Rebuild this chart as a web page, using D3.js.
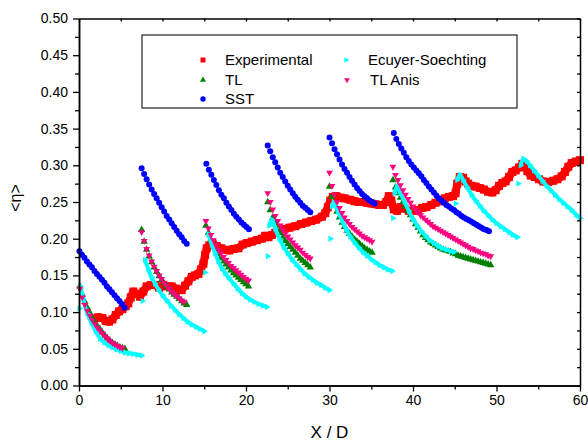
<!DOCTYPE html>
<html><head><meta charset="utf-8">
<script src="https://cdn.jsdelivr.net/npm/d3@7"></script>
<style>
body{margin:0;background:#fff;}
text{font-family:"Liberation Sans",Arial,Helvetica,sans-serif;}
</style></head><body>
<svg id="chart" width="588" height="442"></svg>
<script>
// ---------- data ----------
const xTicks = [0, 10, 20, 30, 40, 50, 60];
const xMinorTicks = [5, 15, 25, 35, 45, 55];
const yTicks = [0, 0.05, 0.10, 0.15, 0.20, 0.25, 0.30, 0.35, 0.40, 0.45, 0.50];
const yMinorTicks = [0.025, 0.075, 0.125, 0.175, 0.225, 0.275, 0.325, 0.375, 0.425, 0.475];
const seriesNames = ["Experimental", "TL", "SST", "Ecuyer-Soechting", "TL Anis"];
const seriesColors = ["#ff0000", "#008000", "#0000ff", "#00ffff", "#ff0080"];

// Experimental [x, y]
const expData = [
 [1.8,0.091],[2.3,0.093],[2.8,0.092],[3.2,0.088],[3.6,0.087],[4.0,0.090],[4.4,0.096],[4.8,0.101],
 [5.2,0.104],[5.6,0.108],[5.9,0.112],[6.2,0.120],[6.5,0.128],[6.9,0.125],[7.3,0.121],[7.7,0.128],
 [8.1,0.135],[8.6,0.137],[9.1,0.137],[9.6,0.133],[10.1,0.136],[10.6,0.135],[11.1,0.135],[11.6,0.132],
 [12.0,0.130],[12.3,0.130],[12.7,0.136],[13.1,0.142],[13.5,0.148],[13.9,0.150],[14.3,0.152],[14.6,0.158],
 [14.9,0.166],[15.1,0.178],[15.3,0.187],[15.6,0.191],[16.0,0.193],[16.5,0.190],[17.0,0.187],[17.5,0.185],
 [18.0,0.184],[18.5,0.186],[19.1,0.187],[19.6,0.192],[20.1,0.194],[20.7,0.196],[21.3,0.198],[21.9,0.200],
 [22.3,0.204],[22.7,0.202],[23.1,0.205],[23.5,0.208],[24.0,0.211],[24.6,0.213],[25.2,0.215],[25.9,0.217],
 [26.6,0.220],[27.2,0.222],[27.8,0.224],[28.4,0.226],[29.1,0.230],[29.5,0.235],[29.8,0.243],[30.1,0.252],
 [30.4,0.257],[30.8,0.258],[31.3,0.256],[31.8,0.255],[32.5,0.253],[33.0,0.251],[33.5,0.250],[34.0,0.250],
 [34.5,0.249],[35.0,0.248],[35.5,0.247],[36.0,0.246],[36.4,0.246],[36.8,0.250],[37.1,0.258],[37.4,0.252],
 [37.7,0.240],[38.1,0.238],[38.5,0.243],[39.0,0.241],[39.5,0.238],[40.0,0.238],[40.6,0.239],[41.1,0.242],
 [41.6,0.243],[42.2,0.246],[42.7,0.249],[43.2,0.251],[43.8,0.255],[44.3,0.257],[44.8,0.258],[45.1,0.262],
 [45.3,0.275],[45.6,0.284],[46.0,0.283],[46.3,0.278],[46.6,0.275],[47.0,0.272],[47.5,0.271],[48.0,0.269],
 [48.5,0.267],[49.0,0.264],[49.5,0.263],[49.9,0.266],[50.3,0.272],[50.7,0.276],[51.1,0.278],[51.5,0.284],
 [51.9,0.291],[52.3,0.293],[52.7,0.297],[53.1,0.302],[53.4,0.300],[53.7,0.292],[54.1,0.286],[54.6,0.284],
 [55.1,0.281],[55.6,0.278],[56.2,0.277],[56.8,0.279],[57.3,0.281],[57.8,0.285],[58.2,0.291],[58.6,0.298],
 [59.0,0.303],[59.5,0.305],[60.0,0.307]
];

// model segments: start positions, sample spacing, values
const modelStep = 0.3;
const tlStarts = [0.1, 7.5, 15.2, 22.6, 30.0, 37.6];
const tlValues = [
 [0.135,0.124,0.114,0.106,0.099,0.092,0.086,0.081,0.077,0.072,0.068,0.064,0.061,0.058,0.056,0.054,0.052,0.051,0.050],
 [0.212,0.196,0.185,0.176,0.168,0.161,0.155,0.149,0.144,0.139,0.135,0.131,0.127,0.124,0.121,0.118,0.115,0.112,0.110],
 [0.218,0.208,0.199,0.192,0.185,0.179,0.174,0.169,0.165,0.161,0.157,0.153,0.150,0.147,0.144,0.141,0.138,0.135],
 [0.250,0.239,0.229,0.221,0.214,0.208,0.202,0.197,0.193,0.189,0.185,0.181,0.177,0.173,0.170,0.167,0.164,0.161],
 [0.271,0.257,0.246,0.237,0.229,0.222,0.216,0.211,0.207,0.203,0.199,0.196,0.193,0.190,0.187,0.185,0.183,0.181],
 [0.280,0.270,0.262,0.256,0.250,0.244,0.238,0.232,0.226,0.220,0.215,0.210,0.205,0.201,0.198,0.195,0.193,0.191,0.189,0.187,
  0.185,0.184,0.183,0.182,0.180,0.179,0.177,0.176,0.175,0.174,0.173,0.172,0.171,0.170,0.169,0.168,0.167,0.166,0.165,0.164]
];
const tlAnisStarts = [0.1, 7.5, 15.2, 22.6, 30.0, 37.6];
const tlAnisValues = [
 [0.132,0.120,0.110,0.102,0.095,0.089,0.084,0.079,0.075,0.071,0.067,0.064,0.061,0.058,0.056,0.054,0.052,0.051],
 [0.209,0.197,0.186,0.177,0.169,0.162,0.156,0.150,0.145,0.140,0.136,0.132,0.128,0.125,0.122,0.119,0.116,0.114],
 [0.224,0.214,0.205,0.198,0.191,0.185,0.180,0.175,0.171,0.167,0.163,0.160,0.157,0.154,0.151,0.148,0.145,0.143],
 [0.262,0.250,0.240,0.231,0.224,0.218,0.212,0.207,0.203,0.199,0.195,0.191,0.188,0.185,0.181,0.178,0.175,0.173],
 [0.290,0.272,0.260,0.250,0.242,0.235,0.229,0.224,0.220,0.216,0.213,0.210,0.207,0.204,0.202,0.200,0.198,0.196],
 [0.298,0.287,0.280,0.273,0.266,0.260,0.254,0.249,0.244,0.240,0.236,0.232,0.229,0.226,0.223,0.220,0.217,0.215,0.213,0.211,
  0.209,0.207,0.205,0.203,0.201,0.199,0.197,0.195,0.193,0.191,0.189,0.187,0.186,0.184,0.183,0.181,0.180,0.179,0.177,0.176]
];
const sstStarts = [0.05, 7.5, 15.25, 22.6, 30.0, 37.7];
const sstValues = [
 [0.183,0.178,0.174,0.169,0.165,0.161,0.156,0.152,0.148,0.144,0.140,0.135,0.131,0.127,0.123,0.119,0.115,0.111,0.106],
 [0.296,0.288,0.281,0.274,0.267,0.261,0.255,0.249,0.243,0.237,0.231,0.226,0.221,0.216,0.211,0.206,0.202,0.197,0.193],
 [0.302,0.294,0.287,0.280,0.273,0.266,0.260,0.255,0.249,0.244,0.239,0.234,0.230,0.226,0.222,0.219,0.216,0.213],
 [0.327,0.319,0.311,0.304,0.297,0.290,0.284,0.278,0.272,0.267,0.262,0.257,0.253,0.249,0.245,0.242,0.239,0.236],
 [0.338,0.330,0.322,0.315,0.308,0.301,0.295,0.290,0.284,0.279,0.274,0.269,0.265,0.261,0.258,0.255,0.252,0.250,0.248],
 [0.344,0.336,0.329,0.323,0.317,0.311,0.306,0.301,0.297,0.293,0.289,0.285,0.280,0.276,0.271,0.267,0.263,0.259,0.255,0.252,
  0.249,0.246,0.244,0.241,0.239,0.236,0.234,0.231,0.229,0.227,0.225,0.223,0.221,0.219,0.217,0.215,0.213,0.212,0.210]
];
// Ecuyer-Soechting: first point of each segment is the isolated inlet point
const ecuyerSegments = [
 [[0.05,0.105],[0.2,0.135],[0.5,0.118],[1.0,0.098],[1.5,0.085],[2.0,0.074],[2.5,0.064],[3.0,0.059],[3.5,0.055],[4.0,0.052],[4.5,0.049],[5.0,0.047],[5.5,0.045],[6.0,0.044],[6.5,0.043],[7.0,0.042],[7.5,0.041]],
 [[7.6,0.115],[7.9,0.171],[8.3,0.158],[8.7,0.147],[9.1,0.139],[9.5,0.131],[10.0,0.123],[10.5,0.116],[11.0,0.109],[11.5,0.103],[12.0,0.097],[12.5,0.092],[13.0,0.087],[13.5,0.083],[14.0,0.080],[14.5,0.077],[15.0,0.074]],
 [[15.1,0.154],[15.5,0.206],[15.9,0.192],[16.3,0.180],[16.7,0.169],[17.1,0.160],[17.5,0.153],[17.9,0.147],[18.5,0.139],[19.0,0.132],[19.5,0.126],[20.0,0.121],[20.5,0.117],[21.0,0.114],[21.5,0.111],[22.0,0.109],[22.5,0.107]],
 [[22.6,0.176],[22.8,0.218],[23.1,0.226],[23.5,0.214],[24.0,0.200],[24.5,0.189],[25.0,0.180],[25.5,0.172],[26.0,0.165],[26.5,0.159],[27.0,0.153],[27.5,0.148],[28.0,0.144],[28.5,0.140],[29.0,0.137],[29.5,0.133],[30.0,0.130]],
 [[30.1,0.200],[30.3,0.244],[30.5,0.250],[31.0,0.237],[31.5,0.225],[32.0,0.213],[32.5,0.203],[33.0,0.195],[33.5,0.188],[34.0,0.182],[34.5,0.177],[35.0,0.172],[35.5,0.168],[36.0,0.164],[36.5,0.161],[37.0,0.158],[37.5,0.156]],
 [[37.6,0.228],[37.8,0.262],[38.1,0.271],[38.5,0.262],[39.0,0.250],[39.5,0.238],[40.0,0.227],[40.5,0.218],[41.0,0.210],[41.5,0.204],[42.0,0.198],[42.5,0.194],[43.0,0.190],[43.5,0.187],[44.0,0.185],[44.5,0.183],[44.9,0.182]],
 [[45.1,0.248],[45.3,0.280],[45.6,0.287],[46.0,0.280],[46.5,0.270],[47.0,0.260],[47.5,0.252],[48.0,0.245],[48.5,0.238],[49.0,0.232],[49.5,0.226],[50.0,0.221],[50.5,0.217],[51.0,0.213],[51.5,0.209],[52.0,0.205],[52.5,0.202]],
 [[52.6,0.275],[52.9,0.300],[53.2,0.309],[53.6,0.306],[54.0,0.300],[54.5,0.293],[55.0,0.286],[55.5,0.279],[56.0,0.272],[56.5,0.266],[57.0,0.260],[57.5,0.254],[58.0,0.249],[58.5,0.244],[59.0,0.239],[59.5,0.233],[60.0,0.228]]
];

// ---------- layout ----------
const svg = d3.select("#chart");
const x = d3.scaleLinear().domain([0, 60]).range([79, 580]);
const y = d3.scaleLinear().domain([0, 0.5]).range([385.5, 18.5]);
const FONT = '"Liberation Sans",Arial,Helvetica,sans-serif';

function toPoints(starts, values) {
  const out = [];
  starts.forEach((s, k) => values[k].forEach((v, i) => out.push([s + i * modelStep, v])));
  return out;
}

const plot = svg.append("g");

// Experimental
plot.append("path")
  .datum(expData)
  .attr("d", d3.line().x(d => x(d[0])).y(d => y(d[1])))
  .attr("fill", "none").attr("stroke", seriesColors[0]).attr("stroke-width", 8).attr("stroke-linejoin", "round");
plot.selectAll(".exp").data(expData).enter().append("rect")
  .attr("x", d => x(d[0]) - 4).attr("y", d => y(d[1]) - 4)
  .attr("width", 8).attr("height", 8).attr("fill", seriesColors[0]);

// TL
const triUp = d3.symbol().type(d3.symbolTriangle).size(24);
plot.selectAll(".tl").data(toPoints(tlStarts, tlValues)).enter().append("path")
  .attr("d", triUp).attr("transform", d => `translate(${x(d[0])},${y(d[1])})`)
  .attr("fill", seriesColors[1]);

// SST
plot.selectAll(".sst").data(toPoints(sstStarts, sstValues)).enter().append("circle")
  .attr("cx", d => x(d[0])).attr("cy", d => y(d[1])).attr("r", 3)
  .attr("fill", seriesColors[2]);

// Ecuyer-Soechting
const triSmall = d3.symbol().type(d3.symbolTriangle).size(18);
ecuyerSegments.forEach(seg => {
  plot.append("path").datum(seg.slice(1))
    .attr("d", d3.line().x(d => x(d[0])).y(d => y(d[1])).curve(d3.curveMonotoneX))
    .attr("fill", "none").attr("stroke", seriesColors[3]).attr("stroke-width", 4).attr("stroke-linecap", "round");
  plot.selectAll(null).data(seg).enter().append("path")
    .attr("d", triSmall).attr("transform", d => `translate(${x(d[0])},${y(d[1])}) rotate(90)`)
    .attr("fill", seriesColors[3]);
});

// TL Anis
plot.selectAll(".tla").data(toPoints(tlAnisStarts, tlAnisValues)).enter().append("path")
  .attr("d", d3.symbol().type(d3.symbolTriangle).size(20))
  .attr("transform", d => `translate(${x(d[0])},${y(d[1])}) rotate(180)`)
  .attr("fill", seriesColors[4]);

// ---------- axes ----------
function styleAxis(g) {
  g.selectAll(".domain").attr("stroke", "#000").attr("stroke-width", 1.5);
  g.selectAll(".tick line").attr("stroke", "#000").attr("stroke-width", 1.3);
  g.selectAll("text").attr("font-family", FONT).attr("font-size", 14).attr("fill", "#000");
}
const fmtY = d3.format(".2f");
// bottom
svg.append("g").attr("transform", "translate(0,385.5)")
  .call(d3.axisBottom(x).tickValues(xTicks).tickFormat(d3.format("d")).tickSizeInner(6).tickSizeOuter(0).tickPadding(4))
  .call(styleAxis);
svg.append("g").attr("transform", "translate(0,385.5)")
  .call(d3.axisBottom(x).tickValues(xMinorTicks).tickFormat("").tickSizeInner(4).tickSizeOuter(0))
  .call(styleAxis);
// left
svg.append("g").attr("transform", "translate(79,0)")
  .call(d3.axisLeft(y).tickValues(yTicks).tickFormat(fmtY).tickSizeInner(6).tickSizeOuter(0).tickPadding(5))
  .call(styleAxis);
svg.append("g").attr("transform", "translate(79,0)")
  .call(d3.axisLeft(y).tickValues(yMinorTicks).tickFormat("").tickSizeInner(4).tickSizeOuter(0))
  .call(styleAxis);
// top (inward ticks)
svg.append("g").attr("transform", "translate(0,18.5)")
  .call(d3.axisBottom(x).tickValues(xTicks.concat(xMinorTicks)).tickFormat("").tickSizeInner(3).tickSizeOuter(0))
  .call(styleAxis);
// right (inward ticks)
svg.append("g").attr("transform", "translate(580,0)")
  .call(d3.axisLeft(y).tickValues(yTicks.concat(yMinorTicks)).tickFormat("").tickSizeInner(3).tickSizeOuter(0))
  .call(styleAxis);

// axis titles
svg.append("text").attr("x", 329.5).attr("y", 438).attr("text-anchor", "middle")
  .attr("font-family", FONT).attr("font-size", 17).text("X / D");
svg.append("text").attr("transform", "translate(20.5,198) rotate(-90)").attr("text-anchor", "middle")
  .attr("font-family", FONT).attr("font-size", 16).text("<η>");

// ---------- legend ----------
const lg = svg.append("g");
lg.append("rect").attr("x", 142).attr("y", 35).attr("width", 375).attr("height", 73)
  .attr("fill", "#fff").attr("stroke", "#222").attr("stroke-width", 1.2);
const legendItems = [
  {i: 0, mx: 203, my: 60, tx: 225, ty: 65},
  {i: 1, mx: 203, my: 80, tx: 225, ty: 85},
  {i: 2, mx: 203, my: 99, tx: 225, ty: 104},
  {i: 3, mx: 346, my: 60, tx: 368, ty: 65},
  {i: 4, mx: 347, my: 80, tx: 370, ty: 85}
];
legendItems.forEach(it => {
  const c = seriesColors[it.i];
  if (it.i === 0) lg.append("rect").attr("x", it.mx - 2.5).attr("y", it.my - 2.5).attr("width", 5).attr("height", 5).attr("fill", c);
  if (it.i === 1) lg.append("path").attr("d", d3.symbol().type(d3.symbolTriangle).size(16)).attr("transform", `translate(${it.mx},${it.my})`).attr("fill", c);
  if (it.i === 2) lg.append("circle").attr("cx", it.mx).attr("cy", it.my).attr("r", 2.7).attr("fill", c);
  if (it.i === 3) lg.append("path").attr("d", d3.symbol().type(d3.symbolTriangle).size(14)).attr("transform", `translate(${it.mx},${it.my}) rotate(90)`).attr("fill", c);
  if (it.i === 4) lg.append("path").attr("d", d3.symbol().type(d3.symbolTriangle).size(14)).attr("transform", `translate(${it.mx},${it.my}) rotate(180)`).attr("fill", c);
  lg.append("text").attr("x", it.tx).attr("y", it.ty).attr("font-family", FONT).attr("font-size", 15).text(seriesNames[it.i]);
});
</script>
</body></html>
